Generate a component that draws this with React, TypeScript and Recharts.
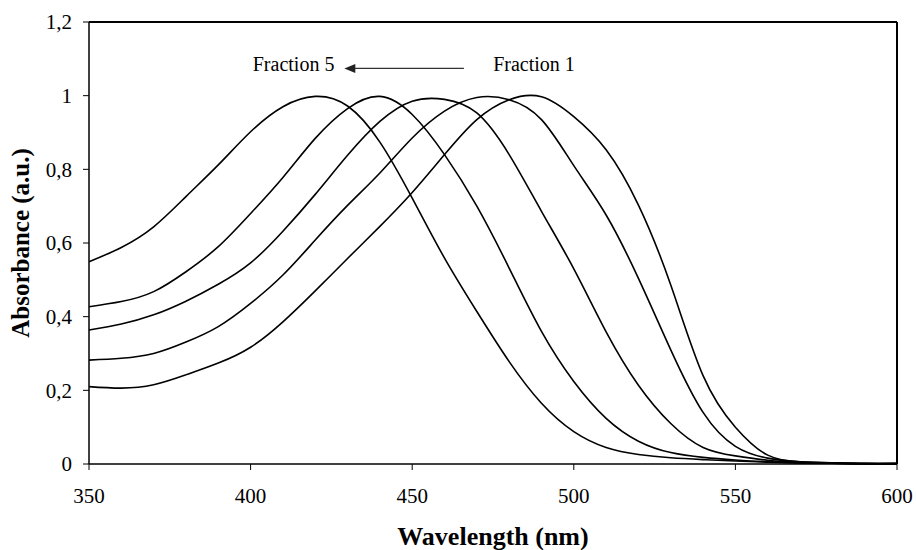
import React from "react";
import {
  LineChart,
  Line,
  XAxis,
  YAxis,
  ReferenceLine,
  ReferenceDot,
} from "recharts";

// wavelength grid (nm)
const wavelengths = [
  350, 360, 370, 380, 390, 400, 410, 420, 430, 440, 450, 460, 470, 480, 490,
  500, 510, 520, 530, 540, 550, 560, 570, 580, 590, 600,
];

// absorbance, Fraction 1 .. Fraction 5
const fraction1 = [
  0.21, 0.206, 0.215, 0.242, 0.274, 0.317, 0.386, 0.47, 0.558, 0.645, 0.737,
  0.84, 0.935, 0.989, 0.997, 0.943, 0.853, 0.703, 0.486, 0.24, 0.1, 0.024,
  0.006, 0.003, 0.001, 0.001,
];
const fraction2 = [
  0.282, 0.287, 0.3, 0.331, 0.373, 0.436, 0.513, 0.608, 0.702, 0.79, 0.885,
  0.958, 0.995, 0.989, 0.935, 0.81, 0.676, 0.504, 0.31, 0.14, 0.048, 0.016,
  0.006, 0.003, 0.001, 0.001,
];
const fraction3 = [
  0.364, 0.38, 0.405, 0.442, 0.488, 0.546, 0.632, 0.732, 0.838, 0.93, 0.985,
  0.99, 0.953, 0.84, 0.686, 0.53, 0.359, 0.214, 0.11, 0.045, 0.022, 0.01,
  0.004, 0.002, 0.001, 0.001,
];
const fraction4 = [
  0.427, 0.441, 0.468, 0.522, 0.59, 0.68, 0.778, 0.884, 0.965, 0.998, 0.949,
  0.84, 0.7, 0.532, 0.36, 0.224, 0.124, 0.062, 0.031, 0.018, 0.011, 0.006,
  0.003, 0.002, 0.001, 0.001,
];
const fraction5 = [
  0.549, 0.588, 0.644, 0.726, 0.812, 0.902, 0.97, 0.998, 0.972, 0.874, 0.722,
  0.559, 0.414, 0.278, 0.165, 0.088, 0.045, 0.026, 0.017, 0.012, 0.008, 0.005,
  0.003, 0.002, 0.001, 0.001,
];

const xTicks = [350, 400, 450, 500, 550, 600];
const yTicks = [0, 0.2, 0.4, 0.6, 0.8, 1, 1.2];

const seriesKeys = ["f1", "f2", "f3", "f4", "f5"];
const seriesValues = [fraction1, fraction2, fraction3, fraction4, fraction5];

const data = wavelengths.map((w, i) => {
  const row: Record<string, number> = { wl: w };
  seriesKeys.forEach((k, j) => {
    row[k] = seriesValues[j][i];
  });
  return row;
});

const FONT = "'Liberation Serif', 'Times New Roman', serif";

// annotation anchors in data units
const arrowFrom = 466;
const arrowTo = 429;
const arrowY = 1.074;
const textY = 1.067;

const fmtY = (v: number) => String(v).replace(".", ",");

const textShape = (label: string) => (p: any) => (
  <text
    x={p.cx}
    y={p.cy}
    textAnchor="middle"
    fontFamily={FONT}
    fontSize={20}
    fill="#000"
  >
    {label}
  </text>
);

const arrowHead = (p: any) => (
  <polygon
    points={`${p.cx},${p.cy} ${p.cx + 11},${p.cy - 4.5} ${p.cx + 11},${p.cy + 4.5}`}
    fill="#222"
  />
);

export default function App() {
  return (
    <div style={{ width: 916, height: 550, background: "#fff" }}>
      <style>{"body{margin:0}"}</style>
      <LineChart
        width={916}
        height={550}
        data={data}
        margin={{ top: 22, right: 19, bottom: 0, left: 0 }}
      >
        <XAxis
          dataKey="wl"
          type="number"
          domain={[350, 600]}
          ticks={xTicks}
          height={86}
          tickSize={6}
          tickMargin={18}
          axisLine={{ stroke: "#000", strokeWidth: 1.5 }}
          tickLine={{ stroke: "#000", strokeWidth: 1 }}
          tick={{ fill: "#000", fontSize: 21, fontFamily: FONT }}
          label={(props: any) => {
            const vb = props.viewBox;
            return (
              <text
                x={vb.x + vb.width / 2}
                y={vb.y + vb.height - 5}
                textAnchor="middle"
                fontFamily={FONT}
                fontWeight="bold"
                fontSize={26}
                fill="#000"
              >
                Wavelength (nm)
              </text>
            );
          }}
        />
        <YAxis
          type="number"
          domain={[0, 1.2]}
          ticks={yTicks}
          width={89}
          tickSize={6}
          tickMargin={11}
          tickFormatter={fmtY}
          axisLine={{ stroke: "#000", strokeWidth: 1.5 }}
          tickLine={{ stroke: "#000", strokeWidth: 1 }}
          tick={{ fill: "#000", fontSize: 21, fontFamily: FONT }}
          label={(props: any) => {
            const vb = props.viewBox;
            const cx = vb.x + 29;
            const cy = vb.y + vb.height / 2;
            return (
              <text
                x={cx}
                y={cy}
                transform={`rotate(-90, ${cx}, ${cy})`}
                textAnchor="middle"
                fontFamily={FONT}
                fontWeight="bold"
                fontSize={25}
                fill="#000"
              >
                Absorbance (a.u.)
              </text>
            );
          }}
        />
        <ReferenceLine y={1.2} stroke="#000" strokeWidth={2} />
        <ReferenceLine x={600} stroke="#000" strokeWidth={2} />
        {seriesKeys.map((k) => (
          <Line
            key={k}
            dataKey={k}
            type="natural"
            stroke="#000"
            strokeWidth={1.6}
            dot={false}
            isAnimationActive={false}
          />
        ))}
        <ReferenceLine
          segment={[
            { x: arrowFrom, y: arrowY },
            { x: arrowTo + 2, y: arrowY },
          ]}
          stroke="#333"
          strokeWidth={1.2}
        />
        <ReferenceDot x={arrowTo} y={arrowY} r={0} shape={arrowHead} />
        <ReferenceDot x={413.3} y={textY} r={0} shape={textShape("Fraction 5")} />
        <ReferenceDot x={487.7} y={textY} r={0} shape={textShape("Fraction 1")} />
      </LineChart>
    </div>
  );
}
